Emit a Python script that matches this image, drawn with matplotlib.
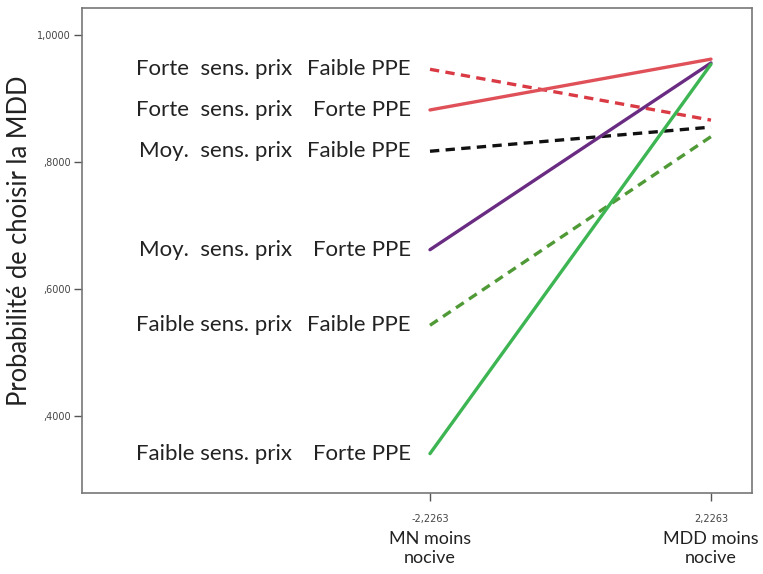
import matplotlib
matplotlib.use("Agg")
import matplotlib.pyplot as plt

x_ticks = [-2.2263, 2.2263]
x_ticklabels = ["-2,2263", "2,2263"]
x_catlabels = ["MN moins\nnocive", "MDD moins\nnocive"]
y_ticks = [0.4, 0.6, 0.8, 1.0]
y_ticklabels = [",4000", ",6000", ",8000", "1,0000"]

sens_labels = ["Forte  sens. prix", "Forte  sens. prix", "Moy.  sens. prix",
               "Moy.  sens. prix", "Faible sens. prix", "Faible sens. prix"]
ppe_labels = ["Faible PPE", "Forte PPE", "Faible PPE",
              "Forte PPE", "Faible PPE", "Forte PPE"]
left_vals = [0.946, 0.882, 0.817, 0.662, 0.543, 0.341]
right_vals = [0.866, 0.962, 0.855, 0.956, 0.840, 0.954]
colors = ["#d93a44", "#e05058", "#111111", "#6a2c82", "#4f9a36", "#3cb552"]
styles = ["dashed", "solid", "dashed", "solid", "dashed", "solid"]

FONT = "Lato"
fig = plt.figure(figsize=(7.63, 5.74), dpi=100)
ax = fig.add_axes([82/763, 1-493/574, (752-82)/763, (493-8)/574])
ax.set_xlim(-7.74, 2.876)
ax.set_ylim(0.279, 1.0425)

for i in range(len(left_vals)):
    ls = (0, (2.8, 1.9)) if styles[i] == "dashed" else "solid"
    ax.plot(x_ticks, [left_vals[i], right_vals[i]], color=colors[i],
            linestyle=ls, linewidth=2.4, solid_capstyle="round",
            dash_capstyle="butt")
    ax.annotate(ppe_labels[i], xy=(x_ticks[0], left_vals[i]), xytext=(-14, 0),
                textcoords="offset points", ha="right", va="center",
                fontsize=16, family=FONT, color="#222222")
    ax.annotate(sens_labels[i], xy=(x_ticks[0], left_vals[i]), xytext=(-99, 0),
                textcoords="offset points", ha="right", va="center",
                fontsize=16, family=FONT, color="#222222")

ax.set_xticks(x_ticks)
ax.set_xticklabels(x_ticklabels, fontsize=7, color="#444444")
for xv, lab in zip(x_ticks, x_catlabels):
    ax.annotate(lab, xy=(xv, 0), xycoords=("data", "axes fraction"),
                xytext=(0, -27), textcoords="offset points", ha="center",
                va="top", fontsize=13, family=FONT, color="#222222",
                linespacing=1.3)
ax.set_yticks(y_ticks)
ax.set_yticklabels(y_ticklabels, fontsize=7, color="#444444")
ax.tick_params(axis="both", length=6, width=1, color="#555555", pad=2)
ax.tick_params(axis="x", pad=9)
ax.set_ylabel("Probabilité de choisir la MDD", fontsize=18.4,
              family=FONT, color="#222222")
ax.yaxis.set_label_coords(-50/670, 0.52)
for s in ax.spines.values():
    s.set_color("#777777")
    s.set_linewidth(1.2)

fig.savefig("out.png", dpi=100)
